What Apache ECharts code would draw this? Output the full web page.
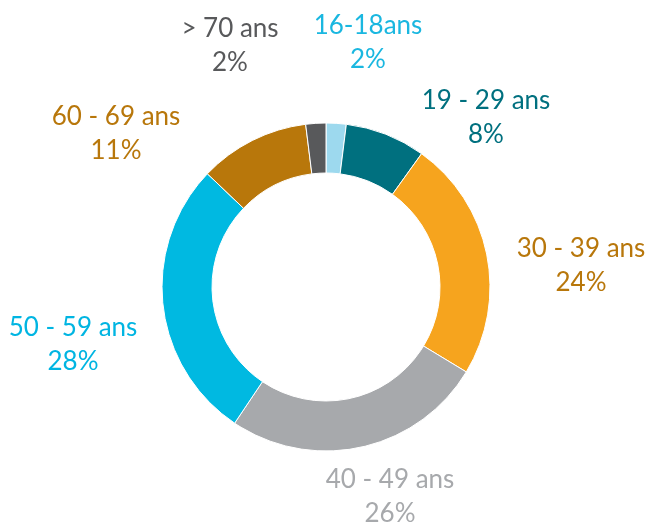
<!DOCTYPE html>
<html>
<head>
<meta charset="utf-8">
<script src="https://cdn.jsdelivr.net/npm/echarts@6/dist/echarts.min.js"></script>
<style>
  html, body { margin: 0; padding: 0; background: #fff; }
  #age { width: 650px; height: 527px; }
</style>
</head>
<body>
<div id="age"></div>
<script>
var categories = ['16-18ans', '19 - 29 ans', '30 - 39 ans', '40 - 49 ans', '50 - 59 ans', '60 - 69 ans', '> 70 ans'];
var percents = [2, 8, 24, 26, 28, 11, 2];
var sliceColors = ['#9dd9ee', '#00707f', '#f6a41e', '#a7a9ac', '#00b9e1', '#b8770b', '#58595b'];
var labelColors = ['#1ab7e0', '#00707f', '#b8770b', '#a7a9ac', '#00b5e2', '#b8770b', '#58595b'];
// where each label sits (centre of the text block)
var labelSpots = [[368, 43], [486, 118], [581, 266], [390, 497], [73, 345], [116, 134], [230, 46]];

var myChart = echarts.init(document.getElementById('age'));

var option = {
    animation: false,
    series: [
        {
            type: 'pie',
            radius: [114, 164],
            center: [326, 287],
            startAngle: 90,
            clockwise: true,
            itemStyle: {
                borderColor: '#fff',
                borderWidth: 1
            },
            label: {
                show: true,
                position: 'outside',
                formatter: '{b}\n{c}%',
                fontFamily: 'Lato, "DejaVu Sans", sans-serif',
                fontSize: 26,
                lineHeight: 34,
                align: 'center',
                overflow: 'none',
                width: 200
            },
            labelLine: { show: false },
            labelLayout: function (params) {
                var p = labelSpots[params.dataIndex];
                return { x: p[0], y: p[1], align: 'center', verticalAlign: 'middle' };
            },
            data: categories.map(function (name, i) {
                return {
                    name: name,
                    value: percents[i],
                    itemStyle: { color: sliceColors[i] },
                    label: { color: labelColors[i] }
                };
            })
        }
    ]
};

myChart.setOption(option);
</script>
</body>
</html>
